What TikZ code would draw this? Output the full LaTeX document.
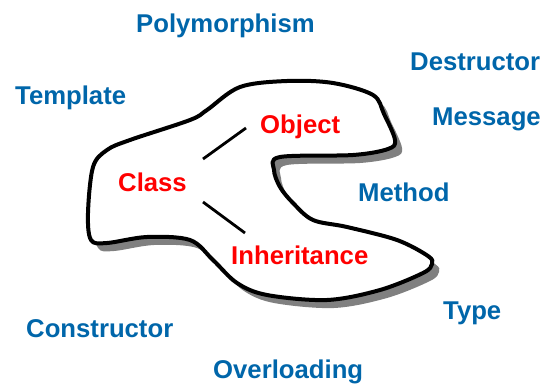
\documentclass[tikz,border=0pt]{standalone}
\usepackage{fontspec}
\setmainfont{Liberation Sans}
\usepackage{xcolor}
\usepackage{tikz}
\definecolor{termblue}{RGB}{0,102,170}
\definecolor{shadowgray}{RGB}{128,128,128}

\begin{document}
\begin{tikzpicture}[x=1pt, y=-1pt,
    term/.style={anchor=base west, inner sep=0pt, font=\fontsize{25.7}{30}\selectfont\bfseries},
    outside/.style={term, text=termblue},
    inside/.style={term, text=red},
    link/.style={line width=2.8pt}]
            \useasboundingbox (0,0) rectangle (543,385);

            \def\blobpath{plot[smooth cycle, tension=0.55] coordinates {(240,87) (287,81) (333,83) (373,95) (384,114) (395,140) (388,149) (353,155) (280,157) (274,170) (280,187) (293,203) (313,220) (347,227) (397,240) (428,256) (432,264) (423,273) (380,290) (327,300) (267,295) (237,283) (213,260) (190,240) (147,237) (107,243) (91,240) (88,213) (93,167) (107,150) (130,140) (190,120) (207,110)}}

            \fill[shadowgray, shift={(7,8)}] \blobpath;
            \draw[line width=4pt, fill=white, line join=round] \blobpath;

            \node[outside] (poly) at (136,33) {Polymorphism};
            \node[outside] (destr) at (410,71) {Destructor};
            \node[outside] (templ) at (15,105) {Template};
            \node[outside] (msg) at (432,125) {Message};
            \node[outside] (meth) at (358,201) {Method};
            \node[outside] (type) at (443,319) {Type};
            \node[outside] (constr) at (26,337) {Constructor};
            \node[outside] (overl) at (213,378) {Overloading};

            \node[inside] (obj) at (260,133) {Object};
            \node[inside] (cls) at (118,191) {Class};
            \node[inside] (inh) at (231,264) {Inheritance};

            \coordinate (clsup) at (203,159);
            \coordinate (objend) at (246,128);
            \coordinate (clsdown) at (203,202);
            \coordinate (inhend) at (245,233);

            \draw[link] (clsup) -- (objend);
            \draw[link] (clsdown) -- (inhend);
        \end{tikzpicture}
\end{document}
